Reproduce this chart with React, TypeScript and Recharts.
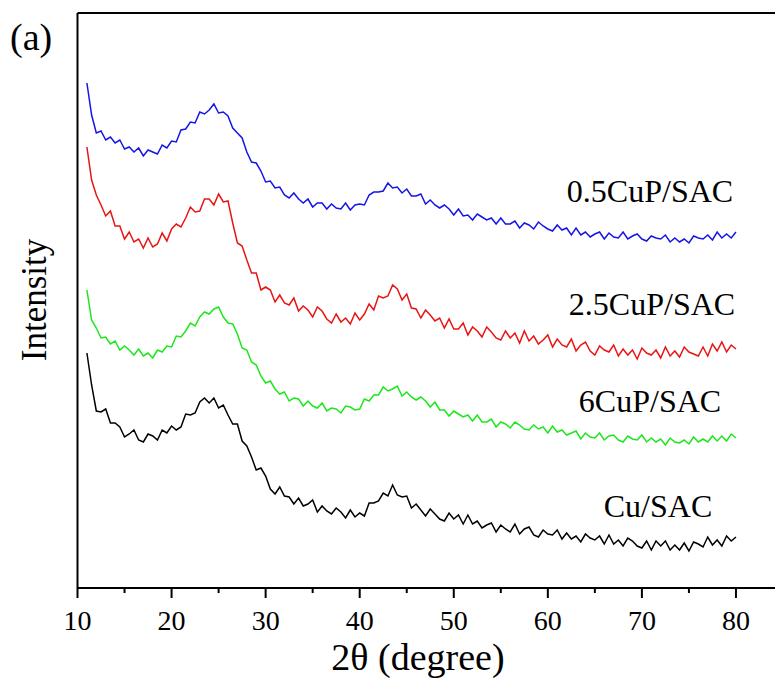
import React from "react"
import { LineChart, Line, XAxis, YAxis, ReferenceLine } from "recharts"

// 2θ step of the scan, 11° to 80°
const twoTheta = Array.from({ length: 139 }, (_, i) => 11 + i * 0.5)

const xTicks = [10, 15, 20, 25, 30, 35, 40, 45, 50, 55, 60, 65, 70, 75, 80]

// intensities (a.u., stacked as in the figure)
const cuP05 = [
  505, 473, 455, 457, 448, 451, 445, 448, 439, 441, 436, 440, 432, 438, 436, 434, 443, 440, 447, 446,
  458, 459, 466, 465, 476, 474, 478, 484, 475, 476, 472, 460, 455, 450, 436, 426, 425, 417, 406, 407,
  400, 401, 393, 390, 395, 389, 385, 389, 381, 385, 385, 379, 384, 380, 379, 385, 378, 383, 384, 383,
  393, 396, 396, 397, 405, 400, 401, 395, 399, 392, 392, 394, 384, 388, 383, 380, 383, 379, 373, 379,
  372, 373, 368, 374, 371, 368, 370, 364, 370, 364, 364, 367, 360, 365, 363, 359, 366, 362, 359, 357,
  363, 358, 360, 353, 360, 353, 356, 351, 354, 356, 349, 355, 351, 350, 356, 349, 352, 354, 349, 347,
  352, 350, 349, 353, 346, 350, 346, 349, 345, 352, 350, 349, 353, 348, 356, 350, 354, 350, 356,
]

const cuP25 = [
  441, 408, 393, 383, 372, 377, 362, 362, 349, 356, 346, 349, 340, 350, 341, 344, 355, 347, 359, 364,
  361, 370, 381, 376, 377, 389, 389, 383, 394, 386, 387, 365, 345, 342, 328, 315, 315, 298, 301, 298,
  286, 293, 285, 283, 290, 277, 282, 278, 271, 281, 277, 269, 265, 274, 266, 270, 264, 275, 268, 274,
  284, 278, 292, 290, 292, 303, 299, 288, 294, 280, 279, 270, 278, 273, 267, 270, 260, 269, 259, 259,
  265, 253, 261, 257, 251, 261, 256, 250, 248, 257, 250, 255, 245, 257, 247, 252, 244, 248, 253, 241,
  249, 243, 241, 249, 237, 243, 246, 237, 233, 242, 238, 236, 243, 232, 239, 233, 238, 229, 240, 235,
  233, 238, 230, 241, 232, 237, 231, 241, 236, 234, 232, 241, 232, 244, 237, 246, 236, 243, 239,
]

const cuP6 = [
  298, 268, 260, 250, 251, 244, 247, 238, 242, 238, 233, 239, 232, 235, 230, 238, 236, 242, 241, 252,
  251, 257, 265, 262, 271, 276, 274, 279, 281, 271, 265, 264, 254, 240, 238, 226, 223, 212, 205, 207,
  199, 194, 196, 187, 190, 189, 182, 187, 182, 180, 185, 177, 180, 179, 175, 182, 181, 178, 179, 189,
  187, 193, 193, 201, 197, 199, 202, 192, 196, 191, 188, 191, 187, 181, 186, 178, 178, 172, 177, 174,
  171, 173, 167, 173, 166, 166, 169, 161, 166, 164, 160, 166, 163, 159, 158, 163, 159, 161, 155, 162,
  156, 158, 153, 155, 157, 149, 155, 151, 150, 155, 148, 152, 153, 148, 146, 152, 149, 148, 153, 146,
  150, 146, 149, 143, 150, 146, 145, 148, 144, 151, 146, 149, 146, 152, 147, 152, 147, 154, 150,
]

const cuSAC = [
  235, 203, 177, 176, 179, 165, 165, 161, 151, 154, 158, 148, 146, 154, 152, 148, 158, 155, 162, 158,
  161, 174, 173, 175, 186, 190, 185, 190, 180, 183, 173, 164, 164, 147, 142, 131, 118, 120, 112, 99,
  94, 101, 92, 91, 84, 90, 82, 84, 88, 76, 82, 77, 74, 80, 76, 70, 78, 71, 75, 72,
  85, 85, 87, 95, 92, 103, 93, 91, 92, 80, 84, 78, 72, 79, 74, 69, 67, 75, 69, 73,
  64, 73, 64, 67, 60, 63, 65, 56, 63, 59, 56, 64, 54, 59, 61, 53, 51, 58, 54, 53,
  58, 49, 55, 49, 52, 46, 54, 50, 48, 52, 44, 53, 44, 48, 42, 50, 47, 42, 40, 47,
  38, 47, 42, 47, 38, 43, 38, 45, 37, 46, 44, 41, 51, 43, 48, 42, 52, 47, 51,
]

const series = [
  { key: "cuP05", name: "0.5CuP/SAC", color: "#1515e6", values: cuP05 },
  { key: "cuP25", name: "2.5CuP/SAC", color: "#e81515", values: cuP25 },
  { key: "cuP6", name: "6CuP/SAC", color: "#1ee61e", values: cuP6 },
  { key: "cuSAC", name: "Cu/SAC", color: "#000000", values: cuSAC },
]

const data = twoTheta.map((x, i) => {
  const row: Record<string, number> = { x }
  series.forEach((s) => {
    row[s.key] = s.values[i]
  })
  return row
})

const serif = "'Liberation Serif', 'Times New Roman', serif"

const DegreeTick = (props: any) => {
  const { x, y, payload } = props
  const major = payload.value % 10 === 0
  return (
    <g>
      <line x1={x} y1={y} x2={x} y2={y + (major ? 10 : 5)} stroke="#000" strokeWidth={2} />
      {major && (
        <text x={x} y={y + 42} textAnchor="middle" fontSize={28} fontFamily={serif} fill="#000">
          {payload.value}
        </text>
      )}
    </g>
  )
}

const labels = [
  { text: "0.5CuP/SAC", x: 650, y: 202 },
  { text: "2.5CuP/SAC", x: 652, y: 315 },
  { text: "6CuP/SAC", x: 650, y: 412 },
  { text: "Cu/SAC", x: 658, y: 517 },
]

export default function App() {
  return (
    <div
      style={{
        position: "fixed",
        top: 0,
        left: 0,
        width: 775,
        height: 681,
        overflow: "hidden",
        background: "#fff",
      }}
    >
      <LineChart
        width={790}
        height={681}
        data={data}
        margin={{ top: 13, right: 7, bottom: 33, left: 77.5 }}
      >
        <XAxis
          dataKey="x"
          type="number"
          domain={[10, 85]}
          ticks={xTicks}
          interval={0}
          height={60}
          tickSize={0}
          tickMargin={0}
          tickLine={false}
          tick={<DegreeTick />}
          axisLine={{ stroke: "#000", strokeWidth: 2 }}
          allowDataOverflow
        />
        <YAxis type="number" domain={[0, 575]} hide allowDataOverflow />
        {/* frame: left axis and top border */}
        <ReferenceLine x={10} stroke="#000" strokeWidth={2} />
        <ReferenceLine y={575} stroke="#000" strokeWidth={2} />
        {series.map((s) => (
          <Line
            key={s.key}
            type="linear"
            dataKey={s.key}
            name={s.name}
            stroke={s.color}
            strokeWidth={1.5}
            dot={false}
            isAnimationActive={false}
          />
        ))}
      </LineChart>
      <svg
        width={775}
        height={681}
        style={{ position: "absolute", top: 0, left: 0, pointerEvents: "none" }}
      >
        <text x={10} y={50} fontSize={38} fontFamily={serif} fill="#000">
          (a)
        </text>
        <text
          x={46}
          y={300}
          fontSize={35}
          fontFamily={serif}
          fill="#000"
          textAnchor="middle"
          transform="rotate(-90 46 300)"
        >
          Intensity
        </text>
        <text x={418} y={670} fontSize={38} fontFamily={serif} fill="#000" textAnchor="middle">
          2θ (degree)
        </text>
        {labels.map((l) => (
          <text key={l.text} x={l.x} y={l.y} fontSize={32} fontFamily={serif} fill="#000" textAnchor="middle">
            {l.text}
          </text>
        ))}
      </svg>
    </div>
  )
}
